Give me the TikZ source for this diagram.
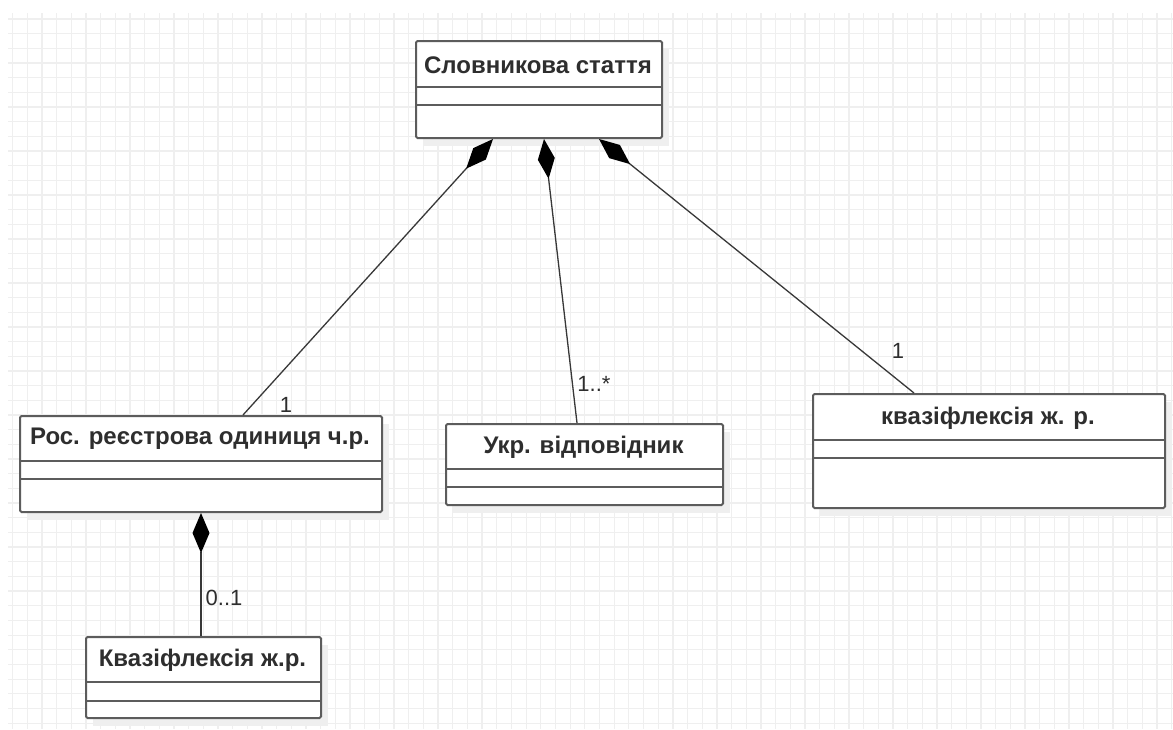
\documentclass[tikz,border=0pt]{standalone}
\usepackage{fontspec}
\setmainfont{Liberation Sans}
\usetikzlibrary{arrows.meta}
\definecolor{gridc}{HTML}{EFEFEF}
\definecolor{boxc}{HTML}{5C5C5C}
\definecolor{linec}{HTML}{383838}
\definecolor{shadc}{HTML}{EFEFEF}
\definecolor{txtc}{HTML}{2E2E2E}
\tikzset{
  classbox/.style={draw=boxc, line width=2pt, fill=white, rounded corners=1.5pt, inner sep=0pt, anchor=north west},
  classtitle/.style={font=\fontsize{24}{28}\selectfont\bfseries, text=txtc, inner sep=0pt},
  divider/.style={draw=boxc, line width=2pt},
  comp/.style={draw=linec, line width=1.3pt, {Diamond[length=40pt,width=17pt,fill=black,line width=0pt]}-},
  mult/.style={font=\fontsize{22}{26}\selectfont, text=txtc, inner sep=0pt},
  gridline/.style={draw=gridc, line width=1.3pt},
  shadow/.style={fill=shadc, draw=none}
}
\begin{document}
\begin{tikzpicture}[x=1pt,y=-1pt]
\useasboundingbox (0,0) rectangle (1173,729);
\fill[white] (0,0) rectangle (1173,729);
% grid
\foreach \i in {0,...,79} {
  \draw[gridline] ({12.7+\i*14.67},13) -- ({12.7+\i*14.67},729);
}
\foreach \j in {0,...,48} {
  \draw[gridline] (8,{19+\j*14.67}) -- (1173,{19+\j*14.67});
}
% shadows
\fill[shadow] (423,49) rectangle (669,146);
\fill[shadow] (27,424) rectangle (389,520);
\fill[shadow] (453,432) rectangle (730,513);
\fill[shadow] (820,402) rectangle (1172,516);
\fill[shadow] (93,645) rectangle (328,726);
% class boxes
\node[classbox, minimum width=246pt, minimum height=97pt] (b1) at (415,40) {};
\node[classtitle] (t1) at (538,65) {Словникова стаття};
\draw[divider] (b1.west |- 0,87) -- (b1.east |- 0,87);
\draw[divider] (b1.west |- 0,105) -- (b1.east |- 0,105);

\node[classbox, minimum width=362pt, minimum height=96pt] (b2) at (19,415) {};
\node[classtitle] (t2) at (200,439) {Рос. реєстрова одиниця ч.р.};
\draw[divider] (b2.west |- 0,461) -- (b2.east |- 0,461);
\draw[divider] (b2.west |- 0,479) -- (b2.east |- 0,479);

\node[classbox, minimum width=277pt, minimum height=81pt] (b3) at (445,423) {};
\node[classtitle] (t3) at (583.5,447) {Укр. відповідник};
\draw[divider] (b3.west |- 0,469) -- (b3.east |- 0,469);
\draw[divider] (b3.west |- 0,487) -- (b3.east |- 0,487);

\node[classbox, minimum width=352pt, minimum height=114pt] (b4) at (812,393) {};
\node[classtitle] (t4) at (988,418) {квазіфлексія ж. р.};
\draw[divider] (b4.west |- 0,440) -- (b4.east |- 0,440);
\draw[divider] (b4.west |- 0,458) -- (b4.east |- 0,458);

\node[classbox, minimum width=235pt, minimum height=81pt] (b5) at (85,636) {};
\node[classtitle] (t5) at (202.5,660) {Квазіфлексія ж.р.};
\draw[divider] (b5.west |- 0,682) -- (b5.east |- 0,682);
\draw[divider] (b5.west |- 0,701) -- (b5.east |- 0,701);

% composition connectors
\draw[comp] ([xshift=78pt]b1.south west) -- ([xshift=224pt]b2.north west);
\draw[comp] ([xshift=129pt]b1.south west) -- ([xshift=132pt]b3.north west);
\draw[comp] ([xshift=184pt]b1.south west) -- ([xshift=102pt]b4.north west);
\draw[comp] ([xshift=182pt]b2.south west) -- ([xshift=116pt]b5.north west);

% multiplicities
\node[mult] (m1) at (286,405) {1};
\node[mult] (m2) at (594,384) {1..*};
\node[mult] (m3) at (898,351) {1};
\node[mult] (m4) at (224,598) {0..1};
\end{tikzpicture}
\end{document}
